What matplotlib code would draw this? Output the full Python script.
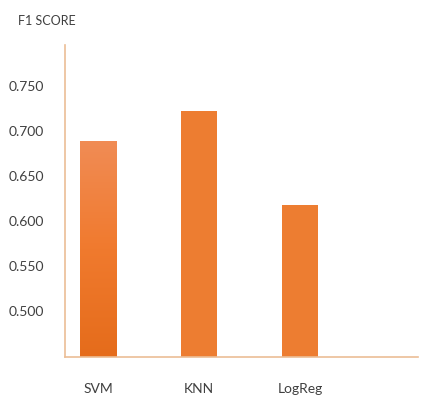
import numpy as np
import matplotlib
matplotlib.use("Agg")
import matplotlib.pyplot as plt
from matplotlib.colors import LinearSegmentedColormap

models = ["SVM", "KNN", "LogReg"]
f1_scores = [0.689, 0.722, 0.618]
tick_values = [0.500, 0.550, 0.600, 0.650, 0.700, 0.750]

plt.rcParams["font.family"] = ["Lato", "DejaVu Sans"]
text_color = "#404040"
bar_color = "#ED7D31"
axis_color = "#EBBE96"

fig = plt.figure(figsize=(4.25, 4.0), dpi=100)
ax = fig.add_axes([0.153, 0.1075, 0.83, 0.78])

x = np.arange(len(models))
bars = ax.bar(x, f1_scores, width=0.36, color=bar_color, zorder=2)

# SVM bar has a light-to-dark gradient fill
svm = bars[0]
svm.set_facecolor("none")
grad = LinearSegmentedColormap.from_list("svm", ["#E56C1B", "#F07A2E", "#F18C55"])
x0, w = svm.get_x(), svm.get_width()
img = ax.imshow(np.linspace(0, 1, 256).reshape(-1, 1), cmap=grad, origin="lower",
                extent=[x0, x0 + w, 0.449, f1_scores[0]], aspect="auto", zorder=2)
img.set_clip_path(svm)

ax.set_xlim(-0.333, 3.17)
ax.set_ylim(0.449, 0.795)

ax.set_yticks(tick_values)
ax.set_yticklabels([f"{v:.3f}" for v in tick_values])
ax.set_xticks(x)
ax.set_xticklabels(models)
ax.tick_params(axis="y", length=0, pad=15, labelsize=10, labelcolor=text_color)
ax.tick_params(axis="x", length=0, pad=19, labelsize=10, labelcolor=text_color)

for side in ["top", "right"]:
    ax.spines[side].set_visible(False)
for side in ["left", "bottom"]:
    ax.spines[side].set_color(axis_color)
    ax.spines[side].set_linewidth(1.2)

fig.text(0.042, 0.948, "F1 SCORE", fontsize=9, color=text_color, va="center")

fig.savefig("out.png", dpi=100)
